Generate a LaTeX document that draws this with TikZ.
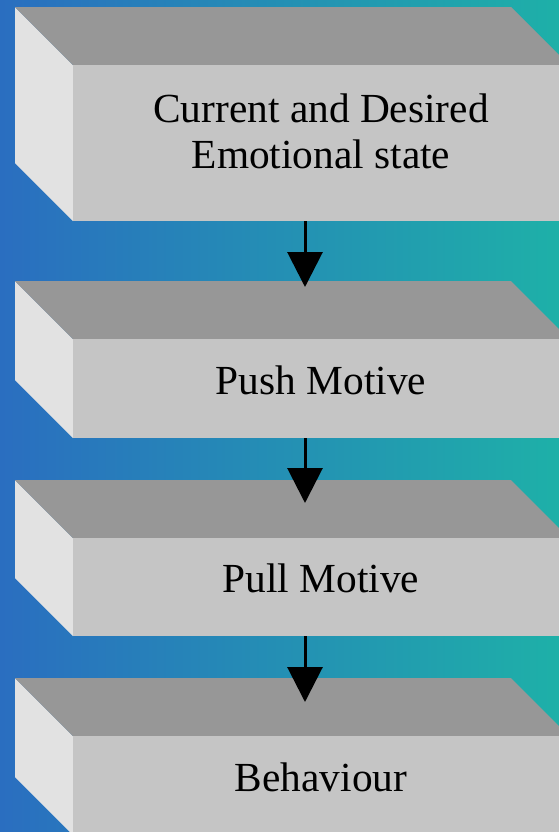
\documentclass[tikz,border=0pt]{standalone}
\usepackage{fontspec}
\setmainfont{Liberation Serif}
\usetikzlibrary{arrows.meta}
\usetikzlibrary{math}
\definecolor{bgblue}{RGB}{42,110,192}
\definecolor{bgteal}{RGB}{30,176,168}
\definecolor{topgray}{RGB}{151,151,151}
\definecolor{frontgray}{RGB}{197,197,197}
\definecolor{sidegray}{RGB}{226,226,226}

\begin{document}
\begin{tikzpicture}[x=0.03cm,y=-0.03cm,
  boxtext/.style={font=\fontsize{35.3}{39.3}\selectfont, align=center},
  flow/.style={-{Triangle[width=1.05cm,length=1.05cm]}, line width=0.09cm}]
\tikzmath{
\pw=559;
\ph=832;
\xl=15;
\dep=58;
\xr=511;
\xf=\xl+\dep;
\xe=\xr+\dep;
\xm=(\xf+\xe)/2;
\ta=7; \ba=221;
\tb=281; \bb=438;
\tc=480; \bc=636;
\td=678; \bd=835;
\ax=305;
}
\useasboundingbox (0,0) rectangle (\pw,\ph);
\clip (0,0) rectangle (\pw,\ph);
\shade[left color=bgblue, right color=bgteal] (0,0) rectangle (\pw,\ph);

% emotional state
\fill[sidegray] (\xl,\ta) -- (\xf,\ta+\dep) -- (\xf,\ba) -- (\xl,\ba-\dep) -- cycle;
\fill[topgray] (\xl,\ta) -- (\xr,\ta) -- (\xe,\ta+\dep) -- (\xf,\ta+\dep) -- cycle;
\fill[frontgray] (\xf,\ta+\dep) rectangle (\xe,\ba);
\node[boxtext] (current) at (\xm,131) {Current and Desired\\Emotional state};

% push
\fill[sidegray] (\xl,\tb) -- (\xf,\tb+\dep) -- (\xf,\bb) -- (\xl,\bb-\dep) -- cycle;
\fill[topgray] (\xl,\tb) -- (\xr,\tb) -- (\xe,\tb+\dep) -- (\xf,\tb+\dep) -- cycle;
\fill[frontgray] (\xf,\tb+\dep) rectangle (\xe,\bb);
\node[boxtext, anchor=base] (push) at (\xm,394) {Push Motive};

% pull
\fill[sidegray] (\xl,\tc) -- (\xf,\tc+\dep) -- (\xf,\bc) -- (\xl,\bc-\dep) -- cycle;
\fill[topgray] (\xl,\tc) -- (\xr,\tc) -- (\xe,\tc+\dep) -- (\xf,\tc+\dep) -- cycle;
\fill[frontgray] (\xf,\tc+\dep) rectangle (\xe,\bc);
\node[boxtext, anchor=base] (pull) at (\xm,592) {Pull Motive};

% behaviour
\fill[sidegray] (\xl,\td) -- (\xf,\td+\dep) -- (\xf,\bd) -- (\xl,\bd-\dep) -- cycle;
\fill[topgray] (\xl,\td) -- (\xr,\td) -- (\xe,\td+\dep) -- (\xf,\td+\dep) -- cycle;
\fill[frontgray] (\xf,\td+\dep) rectangle (\xe,\bd);
\node[boxtext, anchor=base] (behav) at (\xm,791) {Behaviour};

% arrows
\coordinate (a1s) at (\ax,\ba);
\coordinate (a1e) at (\ax,287);
\coordinate (a2s) at (\ax,\bb);
\coordinate (a2e) at (\ax,503);
\coordinate (a3s) at (\ax,\bc);
\coordinate (a3e) at (\ax,702);
\draw[flow] (a1s) -- (a1e);
\draw[flow] (a2s) -- (a2e);
\draw[flow] (a3s) -- (a3e);
\end{tikzpicture}
\end{document}
